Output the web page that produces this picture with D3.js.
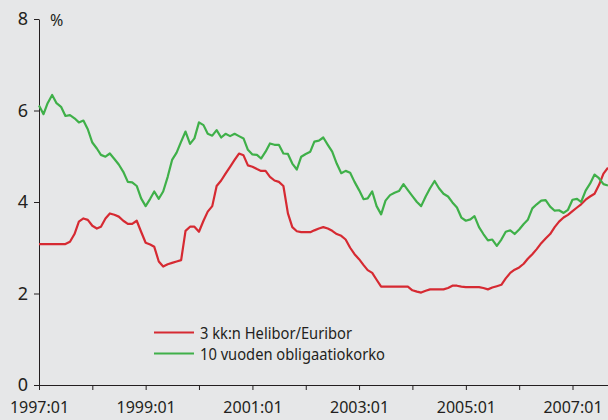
<!DOCTYPE html>
<html>
<head>
<meta charset="utf-8">
<script src="https://cdn.jsdelivr.net/npm/d3@7"></script>
<style>
  body { margin: 0; background: #e6e7e8; }
  svg { display: block; font-family: "Noto Sans", sans-serif; }
</style>
</head>
<body>
<div id="container"></div>
<script>
// monthly values, 1997:01 .. 2007:09
const euribor = [
  3.08, 3.08, 3.08, 3.08, 3.08, 3.08, 3.08, 3.13, 3.30, 3.57, 3.64, 3.61,
  3.48, 3.42, 3.46, 3.64, 3.75, 3.72, 3.68, 3.59, 3.52, 3.52, 3.59, 3.35,
  3.11, 3.07, 3.02, 2.70, 2.59, 2.64, 2.67, 2.70, 2.73, 3.37, 3.46, 3.46,
  3.35, 3.59, 3.79, 3.91, 4.35, 4.47, 4.62, 4.77, 4.92, 5.06, 5.02, 4.80,
  4.77, 4.72, 4.68, 4.68, 4.55, 4.47, 4.44, 4.35, 3.75, 3.45, 3.36, 3.34,
  3.34, 3.34, 3.38, 3.42, 3.45, 3.42, 3.37, 3.30, 3.26, 3.18, 3.00, 2.86,
  2.75, 2.62, 2.51, 2.45, 2.30, 2.15, 2.15, 2.15, 2.15, 2.15, 2.15, 2.15,
  2.07, 2.04, 2.02, 2.06, 2.09, 2.09, 2.09, 2.09, 2.12, 2.17, 2.17, 2.15,
  2.14, 2.14, 2.14, 2.14, 2.12, 2.09, 2.13, 2.16, 2.19, 2.33, 2.45, 2.52,
  2.57, 2.65, 2.76, 2.86, 2.97, 3.10, 3.20, 3.30, 3.45, 3.57, 3.66, 3.72,
  3.80, 3.88, 3.95, 4.05, 4.12, 4.18, 4.37, 4.62, 4.75
];
const bond10 = [
  6.11, 5.92, 6.16, 6.34, 6.16, 6.08, 5.88, 5.90, 5.83, 5.74, 5.78, 5.59,
  5.30, 5.17, 5.03, 4.99, 5.06, 4.94, 4.82, 4.66, 4.44, 4.43, 4.35, 4.08,
  3.91, 4.07, 4.23, 4.07, 4.23, 4.55, 4.92, 5.08, 5.32, 5.54, 5.27, 5.39,
  5.74, 5.68, 5.49, 5.45, 5.57, 5.41, 5.49, 5.44, 5.49, 5.44, 5.39, 5.14,
  5.04, 5.03, 4.95, 5.10, 5.28, 5.25, 5.25, 5.06, 5.05, 4.84, 4.71, 4.99,
  5.05, 5.10, 5.32, 5.34, 5.41, 5.25, 5.10, 4.84, 4.63, 4.68, 4.64, 4.44,
  4.26, 4.06, 4.08, 4.23, 3.91, 3.73, 4.03, 4.15, 4.20, 4.24, 4.39, 4.26,
  4.13, 4.00, 3.91, 4.12, 4.30, 4.46, 4.30, 4.18, 4.12, 3.99, 3.88, 3.66,
  3.59, 3.62, 3.69, 3.45, 3.30, 3.16, 3.18, 3.04, 3.18, 3.35, 3.38, 3.30,
  3.40, 3.52, 3.61, 3.86, 3.95, 4.03, 4.04, 3.90, 3.81, 3.82, 3.76, 3.83,
  4.05, 4.07, 4.00, 4.25, 4.40, 4.60, 4.52, 4.39, 4.36
];
const months = d3.timeMonth.range(new Date(1997, 0, 1), new Date(2007, 9, 1));
const yTicks = [0, 2, 4, 6, 8];
const yearTicks = d3.range(1997, 2008).map((y) => new Date(y, 0, 1));
const legendLabels = ['3 kk:n Helibor/Euribor', '10 vuoden obligaatiokorko'];
const colors = ['#d62a32', '#3fb049'];

const w = 608;
const h = 420;

const svg = d3.select('#container')
              .append('svg')
              .attr('width', w)
              .attr('height', h);

const xScale = d3.scaleTime()
                 .domain([months[0], months[months.length - 1]])
                 .range([39, 608]);
const yScale = d3.scaleLinear()
                 .domain([0, 8])
                 .range([385, 19]);

const xAxis = d3.axisBottom(xScale)
                .tickValues(yearTicks)
                .tickSize(5)
                .tickSizeOuter(0)
                .tickPadding(12)
                .tickFormat((d) => d.getFullYear() % 2 === 1 ? d.getFullYear() + ':01' : '');
const yAxis = d3.axisLeft(yScale)
                .tickValues(yTicks)
                .tickSize(5)
                .tickSizeOuter(0)
                .tickPadding(6);

const gx = svg.append('g')
   .attr('transform', 'translate(0,' + yScale(0) + ')')
   .call(xAxis);
gx.select('.domain').attr('stroke', '#231f20');
gx.selectAll('.tick line').attr('stroke', '#231f20');
gx.selectAll('.tick text')
  .attr('font-size', 16)
  .attr('fill', '#231f20')
  .attr('font-family', '"Noto Sans", sans-serif');

const gy = svg.append('g')
   .attr('transform', 'translate(' + xScale(months[0]) + ',0)')
   .call(yAxis);
gy.select('.domain').attr('stroke', '#231f20');
gy.selectAll('.tick line').attr('stroke', '#231f20');
gy.selectAll('.tick text')
  .attr('font-size', 18)
  .attr('fill', '#231f20')
  .attr('font-family', '"Noto Sans", sans-serif');

svg.append('text')
   .attr('x', 50)
   .attr('y', 26)
   .attr('font-size', 16)
   .attr('fill', '#231f20')
   .text('%');

const line = d3.line()
               .x((d, i) => xScale(months[i]))
               .y((d) => yScale(d));

[euribor, bond10].forEach((series, k) => {
  svg.append('path')
     .datum(series)
     .attr('fill', 'none')
     .attr('stroke', colors[k])
     .attr('stroke-width', 2.2)
     .attr('stroke-linejoin', 'round')
     .attr('d', line);
});

// Legend
const legend = svg.append('g');
legend.selectAll('line')
      .data(legendLabels)
      .enter()
      .append('line')
      .attr('x1', 154)
      .attr('x2', 194)
      .attr('y1', (d, i) => 332.5 + i * 21)
      .attr('y2', (d, i) => 332.5 + i * 21)
      .attr('stroke', (d, i) => colors[i])
      .attr('stroke-width', 2);
legend.selectAll('text')
      .data(legendLabels)
      .enter()
      .append('text')
      .attr('x', 200)
      .attr('y', (d, i) => 339 + i * 21)
      .attr('font-size', 15.5)
      .attr('fill', '#231f20')
      .attr('textLength', (d, i) => [152, 185][i])
      .attr('lengthAdjust', 'spacingAndGlyphs')
      .text((d) => d);
</script>
</body>
</html>
